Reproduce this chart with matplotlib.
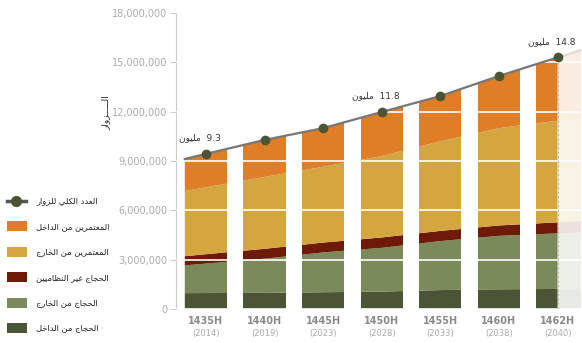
import numpy as np
import matplotlib
matplotlib.use('Agg')
import matplotlib.pyplot as plt
from matplotlib.patches import Rectangle
from matplotlib.lines import Line2D

# ---- data (millions of visitors) ----
hijri = ['1435H', '1440H', '1445H', '1450H', '1455H', '1460H', '1462H']
greg = ['2014', '2019', '2023', '2028', '2033', '2038', '2040']

hajj_inside = [0.97, 0.98, 1.02, 1.06, 1.15, 1.20, 1.22]
hajj_outside = [1.79, 2.08, 2.42, 2.66, 2.98, 3.25, 3.38]
hajj_irregular = [0.57, 0.60, 0.60, 0.63, 0.62, 0.63, 0.67]
umrah_outside = [4.07, 4.37, 4.61, 4.95, 5.45, 5.92, 6.18]
umrah_inside = [2.03, 2.25, 2.35, 2.68, 2.75, 3.17, 3.85]

label_idx = [0, 3, 6]
label_vals = ['9.3', '11.8', '14.8']

series_names = ['الحجاج من الداخل', 'الحجاج من الخارج', 'الحجاج غير النظاميين',
                'المعتمرين من الخارج', 'المعتمرين من الداخل']
total_name = 'العدد الكلي للزوار'
colors = ['#4b5536', '#7b8a5a', '#6e1a08', '#d4a63f', '#e07e28']

# ---- minimal arabic shaping (matplotlib has no bidi/shaping) ----
FORMS = {
    'ء': (0xFE80, 1), 'آ': (0xFE81, 2), 'أ': (0xFE83, 2), 'إ': (0xFE87, 2),
    'ا': (0xFE8D, 2), 'ب': (0xFE8F, 4), 'ة': (0xFE93, 2), 'ت': (0xFE95, 4),
    'ث': (0xFE99, 4), 'ج': (0xFE9D, 4), 'ح': (0xFEA1, 4), 'خ': (0xFEA5, 4),
    'د': (0xFEA9, 2), 'ذ': (0xFEAB, 2), 'ر': (0xFEAD, 2), 'ز': (0xFEAF, 2),
    'س': (0xFEB1, 4), 'ش': (0xFEB5, 4), 'ص': (0xFEB9, 4), 'ض': (0xFEBD, 4),
    'ط': (0xFEC1, 4), 'ظ': (0xFEC5, 4), 'ع': (0xFEC9, 4), 'غ': (0xFECD, 4),
    'ف': (0xFED1, 4), 'ق': (0xFED5, 4), 'ك': (0xFED9, 4), 'ل': (0xFEDD, 4),
    'م': (0xFEE1, 4), 'ن': (0xFEE5, 4), 'ه': (0xFEE9, 4), 'و': (0xFEED, 2),
    'ى': (0xFEEF, 2), 'ي': (0xFEF1, 4),
}
TATWEEL = 'ـ'


def shape(text):
    def dual(c):
        return c == TATWEEL or FORMS.get(c, (0, 0))[1] == 4

    def joins(c):
        return c == TATWEEL or FORMS.get(c, (0, 0))[1] >= 2

    out = []
    for i, c in enumerate(text):
        if c not in FORMS:
            out.append(c)
            continue
        base, n = FORMS[c]
        prev = text[i - 1] if i > 0 else ''
        nxt = text[i + 1] if i + 1 < len(text) else ''
        jp = n >= 2 and dual(prev)
        jn = n == 4 and joins(nxt)
        k = 3 if (jp and jn) else 1 if jp else 2 if jn else 0
        out.append(chr(base + k))
    return ''.join(reversed(out))


layers = [np.array(v) for v in (hajj_inside, hajj_outside, hajj_irregular,
                                 umrah_outside, umrah_inside)]
total = np.sum(layers, axis=0)
x = np.arange(len(hijri))

# stretch first segment out to the left edge of the first column
half = 0.36
xs = np.concatenate([[-half], x])
ext = [np.concatenate([[v[0] - half * (v[1] - v[0])], v]) for v in layers]
tot_ext = np.sum(ext, axis=0)

# faded continuation past the last year
fx = np.array([x[-1], x[-1] + 0.45])
fext = [np.array([v[-1], v[-1] + 0.45 * (v[-1] - v[-2])]) for v in layers]
ftot = np.sum(fext, axis=0)

fig = plt.figure(figsize=(5.82, 3.43), dpi=100)
ax = fig.add_axes([176 / 582, 1 - 309 / 343, (581 - 176) / 582, 296 / 343])

ax.stackplot(xs, *ext, colors=colors, lw=0, zorder=1)
ax.stackplot(fx, *fext, colors=colors, lw=0, alpha=0.13, zorder=1)

for c in x[:-1]:
    ax.axvspan(c + half, c + 1 - half, color='white', lw=0, zorder=2)
ax.vlines(x[-1], 0, total[-1], color='#bbbbbb', ls=(0, (2, 2)), lw=0.8,
          zorder=2.6)

ax.plot(xs, tot_ext, color='#777777', lw=1.6, zorder=3)
ax.plot(fx, ftot, color='#777777', lw=1.6, alpha=0.2, zorder=3)
ax.plot(x, total, 'o', ms=6, color='#4b5536', zorder=4)

for i, v in zip(label_idx, label_vals):
    ax.annotate(shape('مليون') + '  ' + v, (x[i], total[i]),
                textcoords='offset pixels', xytext=(-6, 16),
                ha='center', va='center', fontsize=6.5, color='#333333',
                family='DejaVu Sans', zorder=5)

ax.set_xlim(-0.51, 6.40)
ax.set_ylim(0, 18)
ax.set_yticks(np.arange(0, 19, 3))
ax.set_yticklabels([f'{int(t * 1e6):,}' for t in np.arange(0, 19, 3)],
                   fontsize=7, color='#aaaaaa')
ax.set_axisbelow(False)
ax.yaxis.grid(True, color='white', lw=1.2)
ax.tick_params(axis='y', length=4, color='#cccccc', pad=2)

ax.set_xticks(x)
ax.set_xticklabels(hijri, fontsize=7, fontweight='bold', color='#8a8a8a')
ax.tick_params(axis='x', length=0, pad=5)
for xi, g in zip(x, greg):
    ax.text(xi, -0.082, f'({g})', transform=ax.get_xaxis_transform(),
            ha='center', va='center', fontsize=6, color='#aaaaaa')

for s in ['top', 'right', 'bottom']:
    ax.spines[s].set_visible(False)
ax.spines['left'].set_color('#cccccc')

# y label
fig.text(106 / 582, 1 - 113 / 343, shape('الـــــزوار'), rotation=90,
         fontsize=6.5, ha='center', va='center', color='#222222')

# legend drawn by hand on an overlay in pixel units
lax = fig.add_axes([0, 0, 1, 1], zorder=-1)
lax.set_xlim(0, 582)
lax.set_ylim(343, 0)
lax.axis('off')
y0, pitch = 201, 25.4
lax.add_line(Line2D([7, 26], [y0, y0], color='#555555', lw=2.5))
lax.plot([16], [y0], 'o', ms=7, color='#4b5536')
lax.text(36, y0, shape(total_name), fontsize=6, va='center', ha='left',
         color='#222222')
for k, (name, col) in enumerate(zip(series_names[::-1], colors[::-1])):
    yy = y0 + pitch * (k + 1)
    lax.add_patch(Rectangle((7, yy - 5), 20, 10, fc=col, ec='none'))
    lax.text(36, yy, shape(name), fontsize=6, va='center', ha='left',
             color='#222222')

fig.savefig('out.png', dpi=100)
